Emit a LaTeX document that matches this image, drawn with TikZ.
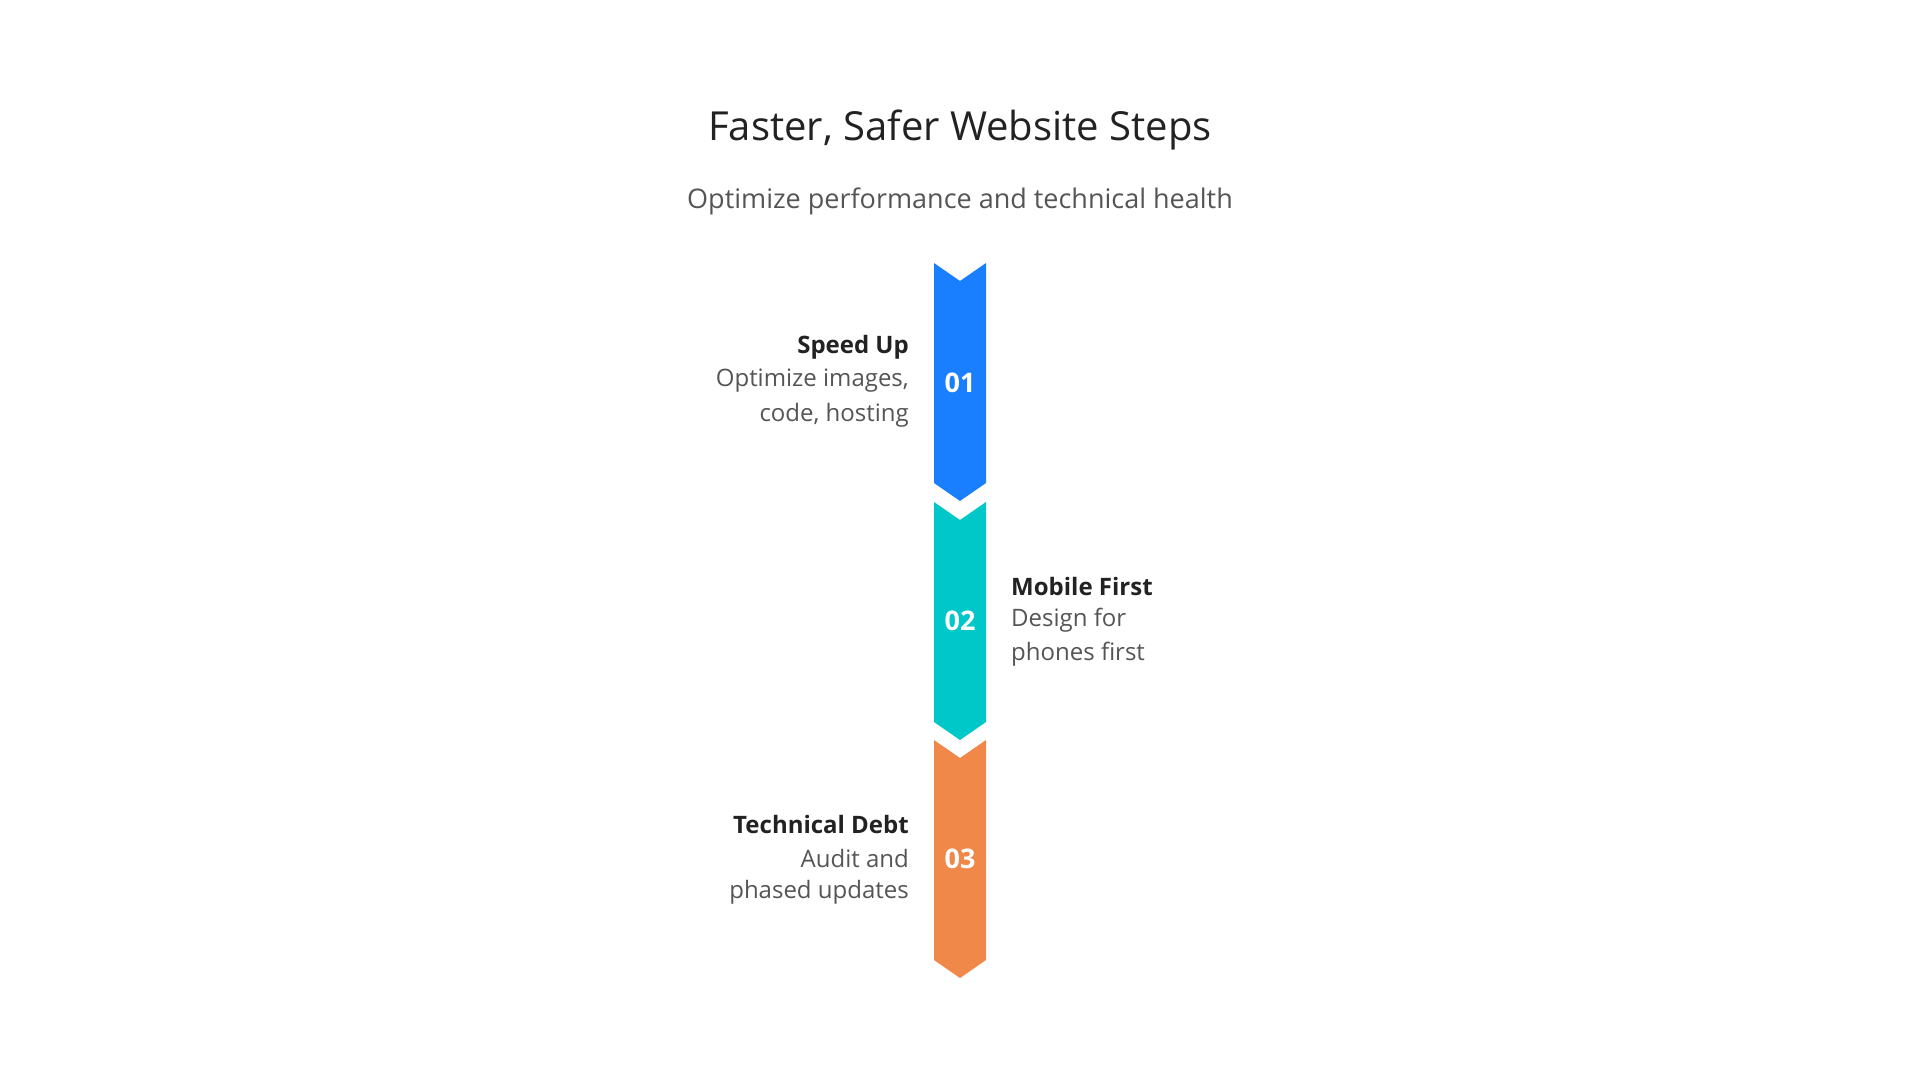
\documentclass[tikz,border=0pt]{standalone}
\usepackage{fontspec}
\setmainfont{Open Sans}
\definecolor{cblue}{HTML}{1A7FFF}
\definecolor{cteal}{HTML}{00C8C8}
\definecolor{corange}{HTML}{F0884A}
\definecolor{tdark}{HTML}{222222}
\definecolor{tgrey}{HTML}{555555}
\begin{document}
\begin{tikzpicture}[x=1pt,y=-1pt,
  head/.style={font=\fontsize{24}{30}\selectfont\bfseries,text=tdark,inner sep=0},
  body/.style={font=\fontsize{24}{34}\selectfont,text=tgrey,inner sep=0},
  num/.style={font=\fontsize{27}{30}\selectfont\bfseries,text=white}]
\useasboundingbox (0,0) rectangle (1920,1080);
\fill[white] (0,0) rectangle (1920,1080);
\node[font=\fontsize{40}{48}\selectfont,text=tdark] (title) at (960,130) {Faster, Safer Website Steps};
\node[font=\fontsize{27}{32}\selectfont,text=tgrey] (sub) at (960,201) {Optimize performance and technical health};
\newcommand{\seg}[2]{\fill[#2] (934,#1) -- (960,#1+18) -- (986,#1) -- (986,#1+220) -- (960,#1+238) -- (934,#1+220) -- cycle;}
\seg{263}{cblue}
\seg{502}{cteal}
\seg{740}{corange}
\node[num] (n1) at (960,383) {01};
\node[num] (n2) at (960,621) {02};
\node[num] (n3) at (960,859) {03};
\node[head,anchor=east] (h1) at (909,347) {Speed Up};
\node[body,anchor=east] (b1a) at (909,381) {Optimize images,};
\node[body,anchor=east] (b1b) at (909,415) {code, hosting};
\node[head,anchor=west] (h2) at (1011,586) {Mobile First};
\node[body,anchor=west] (b2a) at (1011,620) {Design for};
\node[body,anchor=west] (b2b) at (1011,654) {phones first};
\node[head,anchor=east] (h3) at (909,824) {Technical Debt};
\node[body,anchor=east] (b3a) at (909,858) {Audit and};
\node[body,anchor=east] (b3b) at (909,892) {phased updates};
\end{tikzpicture}
\end{document}
